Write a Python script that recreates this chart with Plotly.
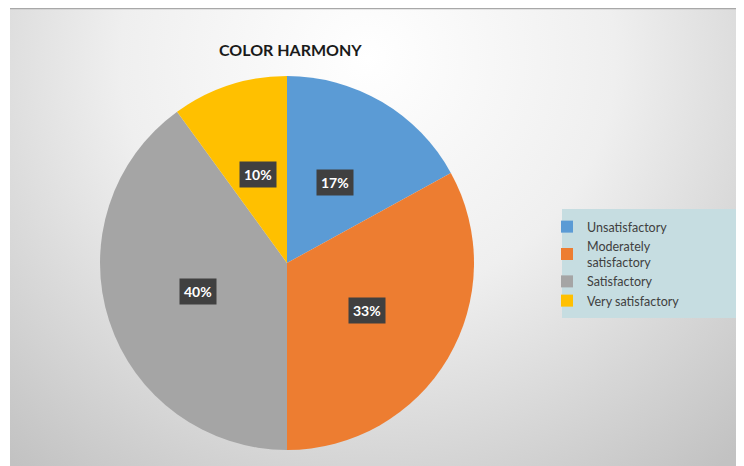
import plotly.graph_objects as go
import math

categories = ["Unsatisfactory", "Moderately<br>satisfactory", "Satisfactory", "Very satisfactory"]
values = [17, 33, 40, 10]
colors = ["#5B9BD5", "#ED7D31", "#A5A5A5", "#FFC000"]
title_text = "COLOR HARMONY"

W, H = 744, 466
OFF = 8  # page body margin
cx, cy, R = 287 - OFF, 263 - OFF, 187  # pie centre / radius in figure pixels


def px(X):
    return (X - OFF) / W


def py(Y):
    return 1 - (Y - OFF) / H


fig = go.Figure()

# Background radial gradient (chart area)
fig.add_trace(go.Scatter(
    x=[-190, 910, 910, -190, -190], y=[-480, -480, 580, 580, -480],
    mode="lines", fill="toself", line=dict(width=0),
    fillgradient=dict(type="radial", colorscale=[[0, "#ffffff"], [0.45, "#efefef"], [1, "#c2c2c2"]]),
    hoverinfo="skip", showlegend=False, xaxis="x", yaxis="y"))

fig.add_trace(go.Pie(
    labels=categories, values=values, sort=False, direction="clockwise", rotation=0,
    marker=dict(colors=colors, line=dict(width=0)),
    textinfo="none", hoverinfo="label+percent",
    domain=dict(x=[(cx - R) / W, (cx + R) / W], y=[(H - cy - R) / H, (H - cy + R) / H]),
    showlegend=True))

# data labels placed at slice mid-angles
total = sum(values)
cum = 0
annotations = []
for v in values:
    mid = (cum + v / 2) / total * 2 * math.pi
    cum += v
    lx = cx + 0.5 * R * math.sin(mid)
    ly = cy - 0.5 * R * math.cos(mid)
    annotations.append(dict(
        x=lx / W, y=1 - ly / H, xref="paper", yref="paper", xanchor="center", yanchor="middle",
        text="<b>%d%%</b>" % round(v / total * 100), showarrow=False,
        font=dict(family="Lato, Open Sans, sans-serif", size=14, color="white"),
        bgcolor="#404040", borderpad=4))

annotations.append(dict(
    x=px(290), y=py(49), xref="paper", yref="paper", xanchor="center", yanchor="middle",
    text="<b>" + title_text + "</b>",
    showarrow=False, font=dict(family="Lato, Open Sans, sans-serif", size=16, color="#1a1a1a")))

fig.update_layout(
    width=W, height=H, margin=dict(l=0, r=0, t=0, b=0),
    paper_bgcolor="white", plot_bgcolor="rgba(0,0,0,0)",
    xaxis=dict(range=[2, W], domain=[2 / W, 1], visible=False, fixedrange=True),
    yaxis=dict(range=[H, 0], domain=[0, 1], visible=False, fixedrange=True),
    annotations=annotations,
    shapes=[
        dict(type="rect", xref="paper", yref="paper", x0=px(562), x1=1.0, y0=py(318), y1=py(209),
             fillcolor="#c6dde1", line=dict(width=0), layer="above"),
        dict(type="line", xref="paper", yref="paper", x0=px(10), x1=1, y0=py(8.5), y1=py(8.5),
             line=dict(color="#a8a8a8", width=1.5)),
    ],
    legend=dict(x=px(547), y=py(212), xanchor="left", yanchor="top",
                bgcolor="rgba(0,0,0,0)", font=dict(family="Lato, Open Sans, sans-serif", size=12.5, color="#404040"),
                tracegroupgap=0, itemwidth=30),
)

fig.write_html("out.html")
